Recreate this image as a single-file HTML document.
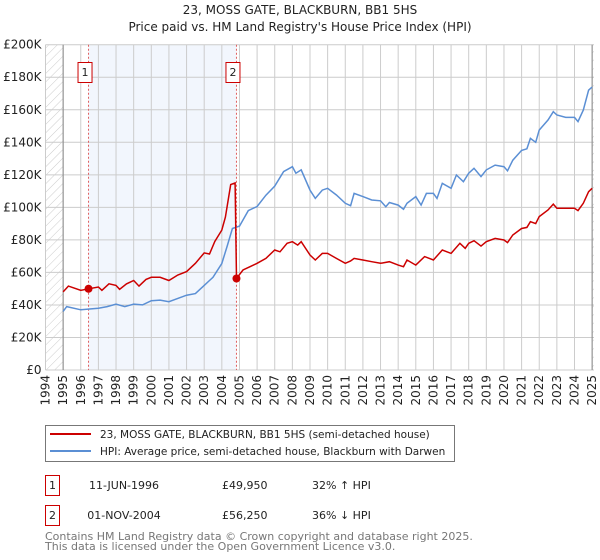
<!DOCTYPE html>
<html><head><meta charset="utf-8">
<style>
body{margin:0;background:#fff;font-family:"DejaVu Sans","Liberation Sans",sans-serif;}
#wrap{position:relative;width:600px;height:560px;overflow:hidden;}
svg text{font-family:"DejaVu Sans","Liberation Sans",sans-serif;}
</style></head><body>
<div id="wrap">
<svg id="chart" width="600" height="560">
<defs><pattern id="hatch" width="6" height="6" patternUnits="userSpaceOnUse" patternTransform="rotate(45)"><line x1="0" y1="0" x2="0" y2="6" stroke="#ccc" stroke-width="1"/></pattern></defs>
<text x="300" y="14" text-anchor="middle" font-size="12" fill="#222">23, MOSS GATE, BLACKBURN, BB1 5HS</text>
<text x="300" y="31" text-anchor="middle" font-size="12" fill="#222">Price paid vs. HM Land Registry's House Price Index (HPI)</text>
</svg>
</div>
<script>
const yearTicks=[1994,1995,1996,1997,1998,1999,2000,2001,2002,2003,2004,2005,2006,2007,2008,2009,2010,2011,2012,2013,2014,2015,2016,2017,2018,2019,2020,2021,2022,2023,2024,2025];
const valueTicks=[0,20000,40000,60000,80000,100000,120000,140000,160000,180000,200000];
const valueTickLabels=["£0","£20K","£40K","£60K","£80K","£100K","£120K","£140K","£160K","£180K","£200K"];
const hpiYears=[1995,1995.2,1996,1997,1997.5,1998,1998.5,1999,1999.5,2000,2000.5,2001,2001.5,2002,2002.5,2003,2003.3,2003.5,2004,2004.3,2004.6,2005,2005.5,2006,2006.5,2007,2007.5,2008,2008.2,2008.5,2009,2009.3,2009.7,2010,2010.5,2011,2011.3,2011.5,2012,2012.5,2013,2013.3,2013.5,2014,2014.3,2014.5,2015,2015.3,2015.6,2016,2016.2,2016.5,2017,2017.3,2017.7,2018,2018.3,2018.7,2019,2019.5,2020,2020.2,2020.5,2021,2021.3,2021.5,2021.8,2022,2022.5,2022.8,2023,2023.5,2024,2024.2,2024.5,2024.8,2025];
const hpiValues=[36,39,37,38,39,40.5,39,40.5,40,42.6,43,42,44,46,47,52,55,57,65.5,76,87,88.5,98,100.5,107.5,113,122,125,121,123,110.6,105.5,110.6,111.7,107.6,102.5,101,108.6,106.6,104.5,104,100.4,103,101.4,98.8,102.5,106.6,101.4,108.6,108.6,105.5,114.8,111.7,119.9,115.8,121,124,118.9,123,126,125,122.5,129,135,136,142.4,140,147.5,153.7,158.8,156.8,155.3,155.3,152.7,159.8,172,174];
const priceYears=[1995,1995.3,1996,1996.44,1997,1997.2,1997.6,1998,1998.2,1998.6,1999,1999.3,1999.7,2000,2000.5,2001,2001.5,2002,2002.5,2003,2003.3,2003.6,2004,2004.2,2004.5,2004.75,2004.83,2005.2,2005.6,2006,2006.5,2007,2007.3,2007.7,2008,2008.3,2008.5,2009,2009.3,2009.7,2010,2010.5,2011,2011.3,2011.5,2012,2012.5,2013,2013.5,2014,2014.3,2014.5,2015,2015.5,2016,2016.5,2017,2017.5,2017.8,2018,2018.3,2018.7,2019,2019.5,2020,2020.2,2020.5,2021,2021.3,2021.5,2021.8,2022,2022.5,2022.8,2023,2023.5,2024,2024.2,2024.5,2024.8,2025];
const priceValues=[48,51.6,49,49.95,51,49,53,52,49.6,53,55,51.6,55.7,57,57,55,58.4,60.5,65.6,72,71.3,79,86,94,114,115,56.25,61.5,63.5,65.6,68.6,73.8,72.7,77.9,78.9,76.8,78.9,70.7,67.6,71.7,71.7,68.6,65.6,67,68.6,67.6,66.6,65.6,66.6,64.5,63.5,67.6,64.5,69.7,67.6,73.8,71.7,77.9,74.8,77.9,79.5,76.2,78.9,80.9,79.9,78.3,83,87,87.7,91.2,90,94.3,98.4,102,99.4,99.4,99.4,98,102.5,109.6,111.7];
const saleLabels=["1","2"];
const saleYears=[1996.44,2004.83];
const saleValues=[49950,56250];

const NS="http://www.w3.org/2000/svg";
const svg=document.getElementById('chart');
const X0=45.5,X1=594,Y0=370,Y1=44.7;
const xs=y=>X0+(y-1994)*(592-63)/30;
const ys=v=>Y0-(v/200000)*(Y0-Y1);
function mk(tag,attrs,parent){const e=document.createElementNS(NS,tag);for(const k in attrs)e.setAttribute(k,attrs[k]);(parent||svg).appendChild(e);return e;}

let r=mk('rect',{x:X0,y:Y1,width:xs(1995)-X0,height:Y0-Y1,fill:'url(#hatch)'});


r=mk('rect',{x:xs(2025),y:Y1,width:X1-xs(2025),height:Y0-Y1,fill:'url(#hatch)'});


r=mk('rect',{x:xs(saleYears[0]),y:Y1,width:xs(saleYears[1])-xs(saleYears[0]),height:Y0-Y1,fill:'#f2f6fd'});



valueTicks.forEach((v,i)=>{
  const l=mk('line',{x1:X0,x2:X1,y1:ys(v),y2:ys(v),stroke:'#cccccc','stroke-width':1});
  
  
  const t=mk('text',{x:X0-4,y:ys(v)+4,'text-anchor':'end','font-size':12,fill:'#222'});
  t.textContent=valueTickLabels[i];
  
  
});
yearTicks.forEach(y=>{
  const l=mk('line',{x1:xs(y),x2:xs(y),y1:Y1,y2:Y0,stroke:'#cccccc','stroke-width':1});
  
  
  const t=mk('text',{x:0,y:0,'text-anchor':'end','font-size':12,fill:'#222',transform:`translate(${xs(y)+4},${Y0+5}) rotate(-90)`});
  t.textContent=y;
  
  
});
let ax=mk('line',{x1:xs(1995),x2:xs(1995),y1:Y1,y2:Y0,stroke:'#888','stroke-width':1});


ax=mk('line',{x1:xs(2025),x2:xs(2025),y1:Y1,y2:Y0,stroke:'#888','stroke-width':1});



saleYears.forEach((y,i)=>{
  const l=mk('line',{x1:xs(y),x2:xs(y),y1:Y1,y2:Y0,stroke:'#e06060','stroke-width':1,'stroke-dasharray':'2,2'});
  
  
  const g=mk('g',{});
  
  
  mk('rect',{x:xs(y)-10.5,y:62.5,width:14,height:20,fill:'#fff',stroke:'#cc0000','stroke-width':1},g);
  const t=mk('text',{x:xs(y)-3.5,y:76,'text-anchor':'middle','font-size':11,fill:'#222'},g);
  t.textContent=saleLabels[i];
});

function path(xa,va,scale){return xa.map((x,i)=>(i?'L':'M')+xs(x).toFixed(1)+','+ys(va[i]*scale).toFixed(1)).join('');}
let p=mk('path',{d:path(hpiYears,hpiValues,1000),fill:'none',stroke:'#5b8fd4','stroke-width':1.5});


p=mk('path',{d:path(priceYears,priceValues,1000),fill:'none',stroke:'#cc0000','stroke-width':1.5});


saleYears.forEach((y,i)=>{
  const c=mk('circle',{cx:xs(y),cy:ys(saleValues[i]),r:4,fill:'#cc0000'});
  
  
});

// legend
const lg=mk('g',{});


mk('rect',{x:45.5,y:425.5,width:409,height:36,fill:'#fff',stroke:'#777','stroke-width':1},lg);
mk('line',{x1:50,x2:91,y1:434,y2:434,stroke:'#cc0000','stroke-width':2},lg);
mk('line',{x1:50,x2:91,y1:451,y2:451,stroke:'#5b8fd4','stroke-width':2},lg);
let lt=mk('text',{x:100,y:438,'font-size':10.5,fill:'#222'},lg);
lt.textContent='23, MOSS GATE, BLACKBURN, BB1 5HS (semi-detached house)';


lt=mk('text',{x:100,y:455,'font-size':10.5,fill:'#222'},lg);
lt.textContent='HPI: Average price, semi-detached house, Blackburn with Darwen';



// table
const rows=[["1","11-JUN-1996","£49,950","32% ↑ HPI"],["2","01-NOV-2004","£56,250","36% ↓ HPI"]];
rows.forEach((row,i)=>{
  const y0=485+i*30;
  const g=mk('g',{});
  
  
  mk('rect',{x:45.5,y:y0-9.5,width:14,height:20,fill:'#fff',stroke:'#cc0000','stroke-width':1},g);
  let t=mk('text',{x:52.5,y:y0+4,'text-anchor':'middle','font-size':11,fill:'#222'},g);t.textContent=row[0];
  t=mk('text',{x:124,y:y0+4,'text-anchor':'middle','font-size':11,fill:'#222'},g);t.textContent=row[1];
  t=mk('text',{x:222,y:y0+4,'font-size':11,fill:'#222'},g);t.textContent=row[2];
  t=mk('text',{x:312,y:y0+4,'font-size':11,fill:'#222'},g);t.textContent=row[3];
});
let f=mk('text',{x:45,y:540,'font-size':11,fill:'#777'});
f.textContent='Contains HM Land Registry data © Crown copyright and database right 2025.';


f=mk('text',{x:45,y:550,'font-size':11,fill:'#777'});
f.textContent='This data is licensed under the Open Government Licence v3.0.';


</script>
</body></html>
